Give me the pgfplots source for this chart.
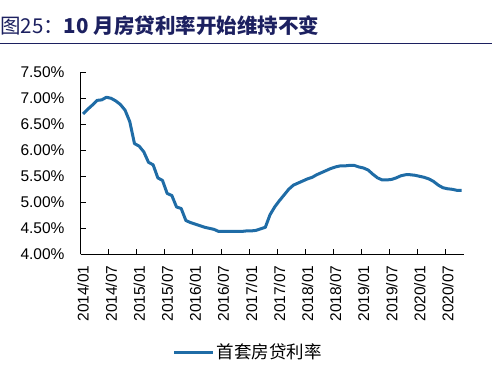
\documentclass[border=0pt]{standalone}
\usepackage{pgfplots}
\pgfplotsset{compat=1.18}
\usepackage{fontspec}
\setmainfont{Liberation Sans}
\newfontfamily\cjk{Noto Sans CJK SC}
\definecolor{linec}{RGB}{31,108,166}
\definecolor{navy}{RGB}{28,32,96}
\begin{document}
\begin{tikzpicture}[x=1bp,y=1bp]
\useasboundingbox (0,0) rectangle (492,369);
\node[anchor=base west, inner sep=0pt, text=navy] at (0,336) {\fontsize{20.5bp}{22bp}\selectfont{\cjk 图25：}{\cjk\bfseries 10 月房贷利率开始维持不变}};
\draw[navy, line width=1bp] (0,326) -- (492,326);
\begin{axis}[
  scale only axis, width=383.3bp, height=182bp,
  at={(80.7bp,114.7bp)}, anchor=south west,
  xmin=-0.5, xmax=81.5, ymin=4, ymax=7.5,
  axis x line*=bottom, axis y line*=left,
  axis line style={black, line width=0.8bp, -},
  tick align=inside, major tick length=5bp,
  tick style={black, line width=0.8bp},
  xtick={-0.5,5.5,...,77.5},
  xticklabels={2014/01,2014/07,2015/01,2015/07,2016/01,2016/07,2017/01,2017/07,2018/01,2018/07,2019/01,2019/07,2020/01,2020/07},
  xticklabel style={xshift=2.5bp, yshift=-11bp, rotate=90, anchor=east, inner sep=0pt, font=\fontsize{15.5bp}{17bp}\selectfont},
  ytick={4,4.5,...,7.5},
  yticklabel={\pgfmathprintnumber[fixed,fixed zerofill,precision=2]{\tick}\%},
  yticklabel style={xshift=-16bp, anchor=east, inner sep=0pt, font=\fontsize{15.5bp}{17bp}\selectfont},
  /pgf/number format/assume math mode=true,
  legend style={at={(0.4365,-0.537)}, anchor=center, draw=none, fill=none, font=\cjk\fontsize{17.5bp}{19bp}\selectfont, inner sep=0pt},
  legend image code/.code={\draw[#1, line width=3bp] (0bp,0bp) -- (39bp,0bp);},
]
\addplot[linec, line width=3bp, line join=round] table {
x y
0 6.70
1 6.79
2 6.87
3 6.96
4 6.97
5 7.02
6 7.00
7 6.95
8 6.88
9 6.77
10 6.55
11 6.13
12 6.08
13 5.97
14 5.77
15 5.72
16 5.47
17 5.42
18 5.17
19 5.13
20 4.91
21 4.88
22 4.65
23 4.61
24 4.58
25 4.55
26 4.52
27 4.50
28 4.48
29 4.44
30 4.44
31 4.44
32 4.44
33 4.44
34 4.44
35 4.45
36 4.45
37 4.46
38 4.49
39 4.52
40 4.76
41 4.91
42 5.03
43 5.14
44 5.25
45 5.33
46 5.37
47 5.41
48 5.45
49 5.48
50 5.53
51 5.57
52 5.61
53 5.65
54 5.68
55 5.70
56 5.70
57 5.71
58 5.71
59 5.68
60 5.66
61 5.62
62 5.54
63 5.47
64 5.43
65 5.43
66 5.44
67 5.47
68 5.51
69 5.53
70 5.53
71 5.52
72 5.50
73 5.48
74 5.45
75 5.40
76 5.33
77 5.28
78 5.26
79 5.25
80 5.23
81 5.23
};
\addlegendentry{首套房贷利率}
\end{axis}
\end{tikzpicture}
\end{document}
